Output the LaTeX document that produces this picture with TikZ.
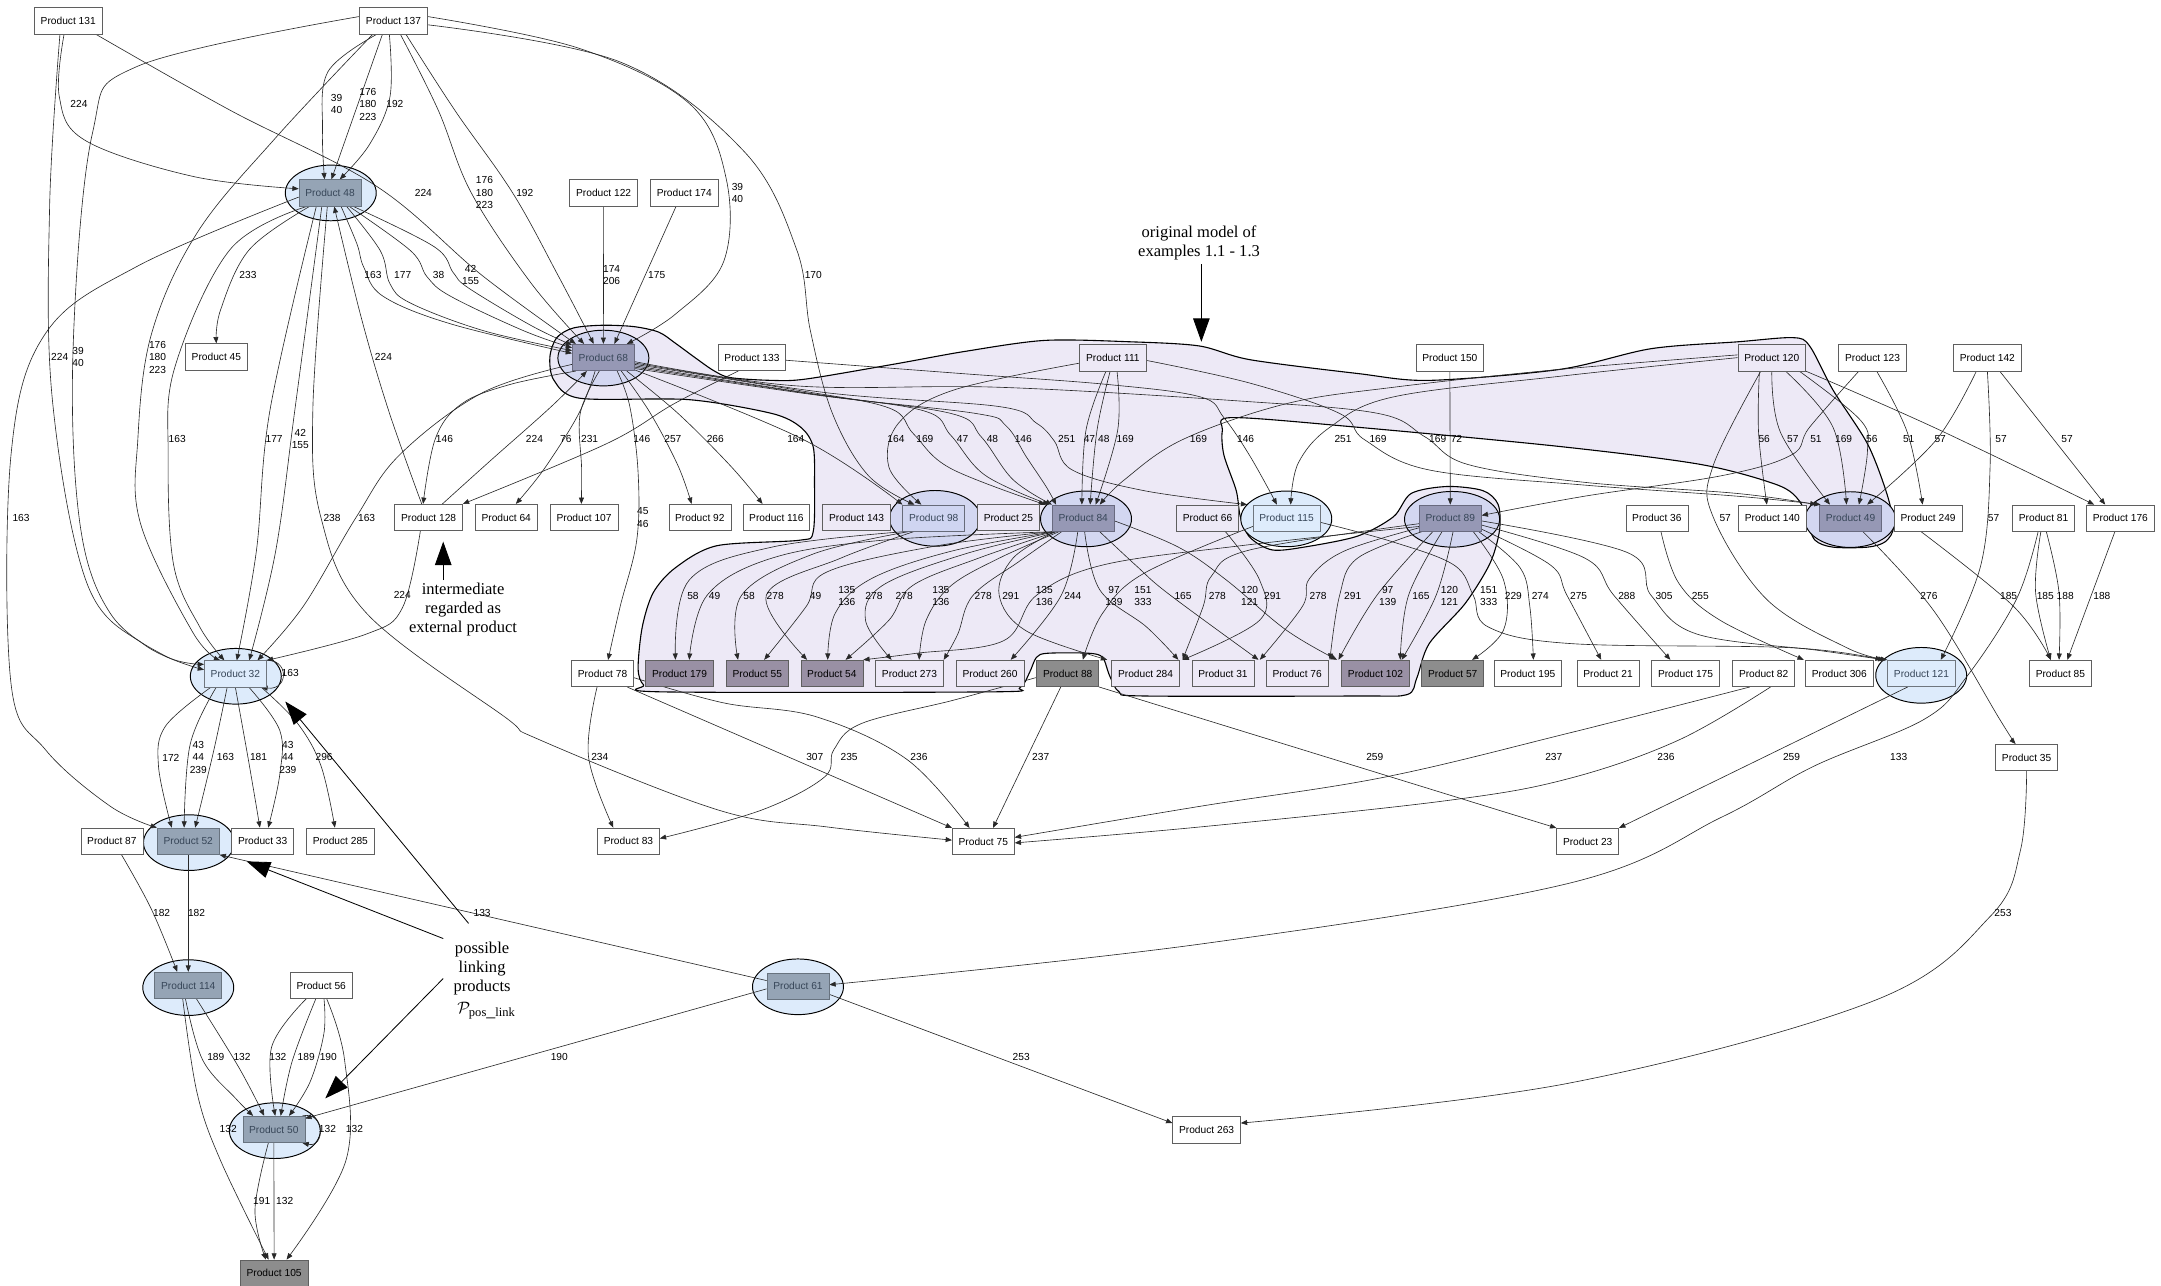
\documentclass[tikz,border=0pt]{standalone}
\usepackage{fontspec}
\setmainfont{Liberation Serif}
\setsansfont{Liberation Sans}
\usetikzlibrary{arrows.meta,shapes.geometric}
\definecolor{hullc}{RGB}{237,233,246}
\definecolor{ellblue}{RGB}{221,235,251}
\definecolor{ellpurp}{RGB}{211,215,241}
\definecolor{rectgb}{RGB}{149,164,181}
\definecolor{rectpp}{RGB}{150,152,181}
\definecolor{rectlt}{RGB}{222,236,252}
\definecolor{rectnn}{RGB}{207,213,241}
\definecolor{darkpp}{RGB}{153,144,164}
\definecolor{grayb}{RGB}{141,141,141}
\definecolor{boxln}{RGB}{95,95,95}
\definecolor{edgec}{RGB}{40,40,40}
\definecolor{inktxt}{RGB}{55,70,88}
\pgfdeclarelayer{back}\pgfdeclarelayer{ell}\pgfdeclarelayer{wires}
\pgfsetlayers{back,ell,wires,main}
\tikzset{
 pbox/.style={draw=boxln, line width=0.5pt, fill=white, font=\sffamily\fontsize{7.4}{8.8}\selectfont, inner xsep=4.6pt, inner ysep=0pt, minimum height=19.2pt, text=black},
 plav/.style={pbox, fill=hullc},
 pdark/.style={pbox, fill=darkpp},
 pgray/.style={pbox, fill=grayb},
 pgb/.style={pbox, fill=rectgb, draw=rectgb!70!black, text=inktxt},
 ppp/.style={pbox, fill=rectpp, draw=rectpp!70!black, text=inktxt},
 plt/.style={pbox, fill=rectlt, draw=rectlt!50!black, text=inktxt},
 pnn/.style={pbox, fill=rectnn, draw=rectnn!50!black, text=inktxt},
 ringb/.style={ellipse, draw=black, line width=0.7pt, fill=ellblue, minimum width=66pt, minimum height=40.4pt, inner sep=0pt},
 ringp/.style={ringb, fill=ellpurp},
 wire/.style={draw=edgec, line width=0.45pt, -{Triangle[length=4.6pt,width=3.6pt]}},
 elab/.style={font=\sffamily\fontsize{7.4}{8.85}\selectfont, align=center, inner sep=0pt},
 notetext/.style={font=\fontsize{12}{13.8}\selectfont, align=center, inner sep=0pt},
 bigarrow/.style={draw=black, line width=0.6pt, -{Triangle[length=17pt,width=12pt]}},
}
\newcommand\wirepath[1]{\draw[wire] plot[smooth,tension=0.6] coordinates {#1};}
\newcommand\elabel[4]{\node[elab] (#1) at (#2,#3) {#4};}
\begin{document}
\begin{tikzpicture}[x=1pt,y=-1pt]
\useasboundingbox (0,0) rectangle (1568,933);
\begin{pgfonlayer}{back}
\fill[white] (0,0) rectangle (1568,933);
% the shaded model region
\filldraw[fill=hullc, draw=black, line width=0.8pt] plot[smooth cycle, tension=0.5] coordinates {
(399,259) (404,245) (416,238) (437,236) (460,237) (478,241) (490,249) (505,260) (518,269) (530,274) (560,276) (585,275) (650,264) (700,255) (758,247) (820,248) (870,251) (907,261) (985,271) (1037,276) (1132,268) (1198,253) (1261,248) (1301,245) (1313,251) (1330,283) (1355,322) (1369,358) (1374,382) (1368,393) (1355,397) (1330,397) (1317,392) (1311,378) (1306,364) (1290,352) (1234,337) (1132,324) (985,310) (894,303) (887,312) (888,330) (897,356) (900,375) (907,390) (923,399) (946,397) (985,389) (1011,375) (1024,358) (1050,353) (1076,356) (1087,366) (1088,385) (1081,409) (1063,438) (1037,467) (1028,492) (1021,504) (985,505) (830,505) (812,502) (805,490) (800,477) (790,474) (760,474) (752,477) (747,488) (740,499) (720,502) (480,502) (467,497) (463,485) (466,455) (474,430) (490,412) (520,396) (580,392) (590,386) (591,350) (590,324) (581,310) (560,300) (500,290) (421,289) (402,276)};
\end{pgfonlayer}

\begin{pgfonlayer}{ell}
\node[ringb] (E48) at (240,140) {};
\node[ringp] (E68) at (437.8,259.8) {};
\node[ringb] (E32) at (171.1,490.7) {};
\node[ringb] (E52) at (137.1,611.4) {};
\node[ringb] (E114) at (136.6,716.6) {};
\node[ringb] (E50) at (199.4,820.4) {};
\node[ringb] (E61) at (579,716) {};
\node[ringp] (E98) at (678.4,376.1) {};
\node[ringp] (E84) at (788,376.5) {};
\node[ringb] (E115) at (933.3,376.5) {};
\node[ringp, minimum width=69pt] (E89) at (1053.6,376.8) {};
\node[ringp] (E49) at (1342.5,377) {};
\node[ringb] (E121) at (1394,490) {};
\end{pgfonlayer}

% products
\node[pbox] (P131) at (49.5,15) {Product 131};
\node[pbox] (P137) at (285.5,15) {Product 137};
\node[pgb] (P48) at (239.5,140) {Product 48};
\node[pbox] (P122) at (438,140) {Product 122};
\node[pbox] (P174) at (496.5,140) {Product 174};
\node[pbox] (P45) at (157,259) {Product 45};
\node[ppp] (P68) at (437.8,259.4) {Product 68};
\node[pbox] (P133) at (545.6,259.4) {Product 133};
\node[plav] (P111) at (807.5,259.5) {Product 111};
\node[pbox] (P150) at (1052,259.5) {Product 150};
\node[plav] (P120) at (1285.6,259.5) {Product 120};
\node[pbox] (P123) at (1358.7,259.5) {Product 123};
\node[pbox] (P142) at (1442,259.5) {Product 142};
\node[pbox] (P128) at (311,375.5) {Product 128};
\node[pbox] (P64) at (367.3,375.5) {Product 64};
\node[pbox] (P107) at (423.8,375.5) {Product 107};
\node[pbox] (P92) at (507.8,375.5) {Product 92};
\node[pbox] (P116) at (563.3,375.5) {Product 116};
\node[plav] (P143) at (621.5,375.5) {Product 143};
\node[pnn] (P98) at (677.5,376) {Product 98};
\node[plav] (P25) at (731.7,375.5) {Product 25};
\node[ppp] (P84) at (786,376) {Product 84};
\node[plav] (P66) at (876.2,376) {Product 66};
\node[plt] (P115) at (933.5,376) {Product 115};
\node[ppp] (P89) at (1052.3,376) {Product 89};
\node[pbox] (P36) at (1202.2,376) {Product 36};
\node[pbox] (P140) at (1286,376) {Product 140};
\node[ppp] (P49) at (1342.8,376) {Product 49};
\node[pbox] (P249) at (1399,376) {Product 249};
\node[pbox] (P81) at (1482.8,376) {Product 81};
\node[pbox] (P176) at (1538.5,376) {Product 176};
\node[plt] (P32) at (170.8,489) {Product 32};
\node[pbox] (P78) at (437.2,488.7) {Product 78};
\node[pdark] (P179) at (493.1,488.6) {Product 179};
\node[pdark] (P55) at (549.5,488.6) {Product 55};
\node[pdark] (P54) at (603.6,488.6) {Product 54};
\node[plav] (P273) at (659.9,488.6) {Product 273};
\node[plav] (P260) at (718.4,488.6) {Product 260};
\node[pgray] (P88) at (774.7,488.6) {Product 88};
\node[plav] (P284) at (831.2,488.6) {Product 284};
\node[plav] (P31) at (887.4,488.6) {Product 31};
\node[plav] (P76) at (941.2,488.6) {Product 76};
\node[pdark] (P102) at (998,488.6) {Product 102};
\node[pgray] (P57) at (1054.1,488.6) {Product 57};
\node[pbox] (P195) at (1108.6,488.6) {Product 195};
\node[pbox] (P21) at (1166.8,488.6) {Product 21};
\node[pbox] (P175) at (1223,488.6) {Product 175};
\node[pbox] (P82) at (1279.7,488.6) {Product 82};
\node[pbox] (P306) at (1334.6,488.6) {Product 306};
\node[plt] (P121) at (1394.2,488.6) {Product 121};
\node[pbox] (P85) at (1495,488.6) {Product 85};
\node[pbox] (P35) at (1470.5,549.7) {Product 35};
\node[pbox] (P87) at (81.2,610.4) {Product 87};
\node[pgb] (P52) at (136.6,610.4) {Product 52};
\node[pbox] (P33) at (190.6,610.4) {Product 33};
\node[pbox] (P285) at (247,610.4) {Product 285};
\node[pbox] (P83) at (456,610.4) {Product 83};
\node[pbox] (P75) at (713.5,610.6) {Product 75};
\node[pbox] (P23) at (1152,610.6) {Product 23};
\node[pgb] (P114) at (136.6,715) {Product 114};
\node[pbox] (P56) at (233.1,715) {Product 56};
\node[pgb] (P61) at (579,715.5) {Product 61};
\node[pgb] (P50) at (198.7,819.5) {Product 50};
\node[pbox] (P263) at (875.5,819.9) {Product 263};
\node[pgray] (P105) at (198.9,923.8) {Product 105};

\begin{pgfonlayer}{wires}
% from Product 131
\wirepath{([xshift=-3pt]P131.south) (43,70) (62,102) (140,128) ([yshift=3pt]P48.west)}
\wirepath{([xshift=20pt]P131.south) (167,80) (273,135) (350,200) ([xshift=-20pt]P68.north)}
\wirepath{([xshift=-6pt]P131.south) (36,150) (38,290) (63,423) (105,468) ([yshift=3pt]P32.west)}
% from Product 137
\wirepath{([xshift=-12pt]P137.south) (238,52) (234,95) ([xshift=-4pt]P48.north)}
\draw[wire] ([xshift=-8pt]P137.south) -- ([xshift=1pt]P48.north);
\wirepath{([xshift=-3pt]P137.south) (283,70) (268,105) ([xshift=7pt]P48.north)}
\wirepath{([xshift=5pt]P137.south) (318,80) (342,140) (385,205) ([xshift=-14pt]P68.north)}
\wirepath{([xshift=9pt]P137.south) (330,80) (372,140) (405,200) ([xshift=-7pt]P68.north)}
\wirepath{([yshift=3pt]P137.east) (420,35) (500,75) (527,130) (525,190) (490,228) ([xshift=17pt]P68.north)}
\wirepath{([yshift=-3pt]P137.east) (450,45) (540,110) (578,181) (588,240) (604,300) (630,345) ([xshift=-14pt]P98.north)}
\wirepath{([yshift=3pt]P137.west) (100,48) (67,97) (53,254) (58,380) (80,445) (120,476) ([yshift=7pt]P32.west)}
\wirepath{([xshift=-15pt]P137.south) (200,100) (143,169) (110,242) (100,319) (102,380) (140,459) ([xshift=-11pt]P32.north)}
% from Product 48
\wirepath{([yshift=-3pt]P48.west) (100,193) (33,242) (8,330) (8,496) (33,544) (80,585) (P52.north west)}
\wirepath{([xshift=-15pt]P48.south) (181,181) (160,225) (P45.north)}
\wirepath{([xshift=8pt]P48.south) (259,177) (264,194) (278,215) (327,235) ([yshift=3pt]P68.west)}
\wirepath{([xshift=12pt]P48.south) (276,182) (283,206) (298,220) (351,240) ([yshift=5pt]P68.west)}
\wirepath{([xshift=14pt]P48.south) (298,182) (310,201) (327,215) (380,240) ([yshift=7pt]P68.west)}
\wirepath{([xshift=17pt]P48.south) (315,179) (329,198) (340,209) (385,236) ([yshift=9pt]P68.west)}
\wirepath{([xshift=-17pt]P48.south) (167,181) (127,266) (122,330) (126,410) (145,455) ([xshift=-8pt]P32.north)}
\wirepath{([xshift=-10pt]P48.south) (196,297) (186,400) ([xshift=1pt]P32.north)}
\wirepath{([xshift=-6pt]P48.south) (214,297) (200,400) ([xshift=10pt]P32.north)}
\wirepath{([xshift=-2pt]P48.south) (227,297) (233,376) (266,445) (366,520) (392,537) (522,588) (600,600) ([yshift=1pt]P75.west)}
\wirepath{([xshift=-5pt]P128.north) (282,298) (262,230) ([xshift=3pt]P48.south)}
% into and out of Product 68
\draw[wire] (P122.south) -- (P68.north);
\draw[wire] ([xshift=-6pt]P174.south) -- ([xshift=8pt]P68.north);
\wirepath{([xshift=-20pt]P68.south) (370,279) (335,293) (316,318) ([xshift=-4pt]P128.north)}
\wirepath{([yshift=-5pt]P68.west) (350,285) (290,330) (258,376) (220,440) ([xshift=16pt]P32.north)}
\wirepath{([xshift=10pt]P128.north) (355,335) (400,295) ([xshift=-12pt]P68.south)}
\wirepath{([xshift=-6pt]P68.south) (420,300) (395,340) ([xshift=7pt]P64.north)}
\wirepath{([xshift=-3pt]P68.south) (421,300) (422,340) ([xshift=-2pt]P107.north)}
\wirepath{([xshift=10pt]P68.south) (457,295) (463,343) (462,392) (450,440) ([xshift=4pt]P78.north)}
\wirepath{([xshift=13pt]P68.south) (472,300) (492,338) ([xshift=-6pt]P92.north)}
\wirepath{([xshift=17pt]P68.south) (492,300) (530,338) ([xshift=-10pt]P116.north)}
\wirepath{([yshift=-9pt]P68.east) (583,319) (P98.north west)}
\wirepath{([xshift=-10pt]P133.south) (489,293) (440,322) (P128.north east)}
\wirepath{([xshift=-6pt]P128.south) (292,441) (266,460) (P32.north east)}
\wirepath{([yshift=-5pt]P68.east) (578,283) (645,296) (663,315) (690,340) ([xshift=-5pt]P84.north west)}
\wirepath{([yshift=-6pt]P68.east) (585,285) (670,298) (690,316) (715,345) ([xshift=-2pt]P84.north west)}
\wirepath{([yshift=-7pt]P68.east) (590,286) (690,300) (712,317) (735,348) (P84.north west)}
\wirepath{([yshift=-8pt]P68.east) (595,287) (708,300) (730,309) (745,332) (759,353) ([xshift=3pt]P84.north west)}
\wirepath{([yshift=-4pt]P68.east) (600,285) (725,295) (752,307) (765,320) (778,341) (830,356) ([xshift=-4pt]P115.north west)}
\wirepath{([yshift=-3pt]P68.east) (578,280) (725,281) (900,291) (1000,300) (1034,317) (1065,337) (1150,350) (1260,358) ([xshift=-2pt]P49.north west)}
% upper band
\wirepath{([yshift=-2pt]P133.east) (697,271) (804,279) (871,288) (888,303) (907,331) ([xshift=-7pt]P115.north)}
\wirepath{([yshift=-4pt]P111.west) (692,283) (652,307) (645,339) ([xshift=-9pt]P98.north)}
\wirepath{([xshift=-5pt]P111.south) (788,312) ([xshift=-1pt]P84.north)}
\wirepath{([xshift=-2pt]P111.south) (796,312) ([xshift=5pt]P84.north)}
\wirepath{([xshift=3pt]P111.south) (811,312) ([xshift=9pt]P84.north)}
\wirepath{([yshift=-2pt]P111.east) (907,278) (972,300) (990,319) (1037,341) (1150,352) (1260,360) ([xshift=1pt]P49.north west)}
\wirepath{([yshift=2pt]P120.west) (1132,268) (1011,281) (933,293) (858,319) (816,348) ([xshift=12pt]P84.north)}
\wirepath{(P120.west) (1132,273) (1011,288) (965,310) (942,336) ([xshift=3pt]P115.north)}
\draw[wire] (P150.south) -- (P89.north);
\wirepath{([xshift=-9pt]P120.south) (1276,314) ([xshift=-4pt]P140.north)}
\wirepath{(P120.south) (1292,314) ([xshift=-15pt]P49.north)}
\wirepath{([xshift=10pt]P120.south) (1330,310) ([xshift=-3pt]P49.north)}
\wirepath{([xshift=20pt]P120.south) (1350,305) (1355,327) ([xshift=6pt]P49.north)}
\wirepath{([xshift=-10pt]P123.south) (1313,310) (1300,330) (1250,345) (1150,360) ([yshift=2pt]P89.east)}
\wirepath{([xshift=3pt]P123.south) (1384,314) ([xshift=-4pt]P249.north)}
\wirepath{([xshift=-8pt]P142.south) (1405,319) ([xshift=12pt]P49.north)}
\draw[wire] ([xshift=9pt]P142.south) -- ([xshift=-11pt]P176.north);
\wirepath{(P120.south east) (1403,310) ([xshift=-19pt]P176.north)}
% lower band
\wirepath{(P98.south west) (560,397) (500,421) ([xshift=-3pt]P179.north)}
\wirepath{(P84.south west) (640,392) (560,405) (513,432) ([xshift=7pt]P179.north)}
\wirepath{([xshift=4pt]P98.south west) (590,402) (538,432) ([xshift=-14pt]P55.north)}
\wirepath{([xshift=8pt]P98.south west) (610,405) (556,432) ([xshift=-18pt]P54.north)}
\wirepath{(P84.south west) (680,396) (600,415) (585,440) ([xshift=5pt]P55.north)}
\wirepath{([xshift=1pt]P84.south west) (690,400) (632,420) (606,445) ([xshift=-3pt]P54.north)}
\wirepath{([xshift=2pt]P84.south west) (700,402) (640,425) (628,450) ([xshift=-13pt]P273.north)}
\wirepath{([xshift=3pt]P84.south west) (710,405) (662,425) (645,450) ([xshift=10pt]P54.north)}
\wirepath{([xshift=5pt]P84.south west) (725,405) (690,425) (672,450) ([xshift=7pt]P273.north)}
\wirepath{([xshift=7pt]P84.south west) (740,407) (706,432) (695,460) (P273.north east)}
\wirepath{([yshift=-6pt]P89.west) (900,396) (800,410) (752,432) (728,465) (665,474) (P54.north east)}
\wirepath{([xshift=2pt]P84.south west) (735,405) (725,432) (745,458) ([xshift=-3pt]P284.north west)}
\wirepath{([xshift=-4pt]P84.south) (770,432) ([xshift=15pt]P260.north)}
\wirepath{([xshift=1pt]P84.south) (798,428) (832,455) ([xshift=-1pt]P284.north east)}
\wirepath{([yshift=-6pt]P115.west) (830,416) (800,445) ([xshift=11pt]P88.north)}
\wirepath{([xshift=12pt]P84.south) (825,411) (848,431) ([xshift=3pt]P31.north east)}
\wirepath{([yshift=-4pt]P89.west) (907,399) (879,418) (873,440) ([xshift=2pt]P284.north east)}
\wirepath{([yshift=-2pt]P84.east) (855,397) (890,421) (933,457) ([xshift=-3pt]P102.north west)}
\wirepath{([xshift=13pt]P66.south) (914,421) (914,450) ([xshift=2pt]P284.north east)}
\wirepath{([yshift=-7pt]P89.west) (975,400) (950,420) (945,440) ([xshift=4pt]P31.north east)}
\wirepath{([xshift=2pt]P89.south west) (985,405) (972,432) ([xshift=1pt]P76.north east)}
\wirepath{([xshift=10pt]P89.south west) (999,432) ([xshift=-2pt]P102.north west)}
\wirepath{([xshift=-6pt]P89.south) (1022,432) ([xshift=18pt]P102.north)}
\wirepath{([xshift=2pt]P89.south) (1042,432) ([xshift=19pt]P102.north)}
\wirepath{([xshift=-6pt]P89.south east) (1091,421) (1091,457) ([xshift=14pt]P57.north)}
\wirepath{([xshift=-2pt]P89.south east) (1103,412) (1110,440) ([xshift=4pt]P195.north)}
\wirepath{([yshift=-8pt]P89.east) (1125,410) (1137,432) ([xshift=-5pt]P21.north)}
\wirepath{([yshift=-5pt]P89.east) (1150,405) (1171,432) ([xshift=-11pt]P175.north)}
\wirepath{([yshift=-2pt]P89.east) (1181,401) (1198,432) (1231,460) (1320,472) ([xshift=-2pt]P121.north west)}
\wirepath{([xshift=3pt]P36.south) (1218,423) (1248,450) ([xshift=-1pt]P306.north west)}
\wirepath{([yshift=-3pt]P115.east) (1010,393) (1055,410) (1069,432) (1080,455) (1140,467) (1300,470) ([xshift=-4pt]P121.north west)}
\wirepath{([xshift=-8pt]P120.south) (1243,338) (1243,375) (1282,435) (1340,470) (P121.north west)}
\wirepath{(P142.south) (1444,338) (1437,411) ([xshift=14pt]P121.north)}
\wirepath{([xshift=9pt]P49.south) (1403,443) (1451,522) ([xshift=-8pt]P35.north)}
\wirepath{([xshift=-5pt]P249.south) (1461,440) ([xshift=-7pt]P85.north)}
\wirepath{([xshift=-2pt]P81.south) (1477,430) ([xshift=-7pt]P85.north)}
\wirepath{([xshift=2pt]P81.south) (1494,430) ([xshift=-1pt]P85.north)}
\draw[wire] ([xshift=-4pt]P176.south) -- ([xshift=5pt]P85.north);
\wirepath{([xshift=-4pt]P81.south) (1463,435) (1427,491) (1396,522) (1316,556) (1249,593) (1138,641) (871,685) ([yshift=1pt]P61.east)}
\wirepath{(P35.south) (1466,617) (1444,665) (1360,726) (1138,786) ([yshift=5pt]P263.east)}
\wirepath{([xshift=-10pt]P82.south) (1138,532) (1004,564) (871,585) ([yshift=3pt]P75.east)}
\wirepath{([xshift=5pt]P82.south) (1218,537) (1138,565) (1049,581) (871,600) ([yshift=-1pt]P75.east)}
\draw[wire] (P88.south east) -- (P23.north west);
\draw[wire] ([xshift=-10pt]P121.south) -- (P23.north east);
\draw[wire] ([xshift=-5pt]P88.south) -- ([xshift=7pt]P75.north);
\wirepath{([yshift=-3pt]P88.west) (692,508) (625,525) (605,544) (598,564) (552,588) ([yshift=2pt]P83.east)}
\wirepath{([xshift=-4pt]P78.south) (427,549) ([xshift=-11pt]P83.north)}
\draw[wire] ([xshift=18pt]P78.south) -- (P75.north west);
\wirepath{([yshift=-3pt]P78.east) (525,510) (592,520) (658,551) ([xshift=-10pt]P75.north)}
\draw[wire] ([yshift=-6pt]P61.east) -- ([yshift=5pt]P263.west);
\draw[wire] ([yshift=4pt]P61.west) -- (P52.south east);
\draw[wire] ([yshift=-2pt]P61.west) -- ([yshift=8pt]P50.east);
% lower left chain
\wirepath{([xshift=-18pt]P32.south) (120,527) (115,556) ([xshift=-12pt]P52.north)}
\wirepath{([xshift=-14pt]P32.south) (138,540) ([xshift=-3pt]P52.north)}
\wirepath{([xshift=-6pt]P32.south) (155,545) ([xshift=5pt]P52.north)}
\wirepath{(P32.south) (180,550) ([xshift=-2pt]P33.north)}
\wirepath{([xshift=10pt]P32.south) (203,530) (203,562) ([xshift=4pt]P33.north)}
\wirepath{([xshift=19pt]P32.south) (216,525) (233,556) ([xshift=-4pt]P285.north)}
\draw[wire] ([xshift=-2pt]P32.north east) .. controls (210,477) and (210,501) .. ([xshift=-4pt]P32.south east);
\wirepath{([xshift=7pt]P87.south) (110,660) ([xshift=-8pt]P114.north)}
\draw[wire] (P52.south) -- (P114.north);
\wirepath{([xshift=-2pt]P114.south) (147,769) (171,797) ([xshift=-15pt]P50.north)}
\wirepath{([xshift=6pt]P114.south) (173,774) ([xshift=-7pt]P50.north)}
\wirepath{([xshift=-4pt]P114.south) (143,793) (160,842) ([xshift=-4pt]P105.north)}
\wirepath{([xshift=-11pt]P56.south) (197,760) ([xshift=1pt]P50.north)}
\wirepath{([xshift=-4pt]P56.south) (212,770) ([xshift=5pt]P50.north)}
\wirepath{([xshift=2pt]P56.south) (235,750) (225,785) ([xshift=11pt]P50.north)}
\wirepath{([xshift=4pt]P56.south) (250,769) (251,842) ([xshift=9pt]P105.north)}
\draw[wire] ([xshift=-2pt]P50.north east) .. controls (236,806) and (236,833) .. ([xshift=-2pt]P50.south east);
\wirepath{([xshift=-4pt]P50.south) (185,878) ([xshift=-6pt]P105.north)}
\draw[wire] (P50.south) -- (P105.north);
\end{pgfonlayer}

% quantity labels
\elabel{a1}{57.3}{75.7}{224}
\elabel{a2}{244.2}{75.7}{39\\40}
\elabel{a3}{266.9}{75.7}{176\\180\\223}
\elabel{a4}{286.5}{75.7}{192}
\elabel{a5}{307.2}{139.8}{224}
\elabel{a6}{351.5}{139.8}{176\\180\\223}
\elabel{a7}{380.8}{139.8}{192}
\elabel{a8}{535.1}{139.8}{39\\40}
\elabel{a9}{443.8}{199.6}{174\\206}
\elabel{a10}{476.5}{199.6}{175}
\elabel{a11}{590.1}{199.6}{170}
\elabel{a12}{179.9}{199.6}{233}
\elabel{a13}{270.6}{199.6}{163}
\elabel{a14}{292.2}{199.6}{177}
\elabel{a15}{318.2}{199.6}{38}
\elabel{a16}{341.5}{199.6}{42\\155}
\elabel{a17}{43.3}{259.3}{224}
\elabel{a18}{56.6}{259.3}{39\\40}
\elabel{a19}{114.3}{259.3}{176\\180\\223}
\elabel{a20}{278.2}{259.3}{224}
\elabel{a21}{15.3}{375.7}{163}
\elabel{a22}{128.6}{318.8}{163}
\elabel{a23}{198.9}{318.8}{177}
\elabel{a24}{217.9}{318.8}{42\\155}
\elabel{a25}{240.9}{375.7}{238}
\elabel{a26}{266}{375.7}{163}
\elabel{a27}{322.5}{318.8}{146}
\elabel{a28}{387.8}{318.8}{224}
\elabel{a29}{410.5}{318.8}{76}
\elabel{a30}{427.8}{318.8}{231}
\elabel{a31}{465.7}{318.6}{146}
\elabel{a32}{488.2}{318.6}{257}
\elabel{a33}{519}{318.6}{266}
\elabel{a34}{577.4}{318.6}{164}
\elabel{a35}{466.4}{375.5}{45\\46}
\elabel{a36}{291.9}{432}{224}
\elabel{b1}{650.1}{318.8}{164}
\elabel{b2}{671.1}{318.8}{169}
\elabel{b3}{698.4}{318.8}{47}
\elabel{b4}{720.1}{318.8}{48}
\elabel{b5}{742.5}{318.8}{146}
\elabel{b6}{774}{318.8}{251}
\elabel{b7}{790.5}{318.8}{47}
\elabel{b8}{800.9}{318.8}{48}
\elabel{b9}{816.4}{318.8}{169}
\elabel{b10}{869.6}{318.8}{169}
\elabel{b11}{903.8}{318.8}{146}
\elabel{b12}{974.5}{318.8}{251}
\elabel{b13}{999.9}{318.8}{169}
\elabel{b14}{1043.2}{318.8}{169}
\elabel{b15}{1056.8}{318.8}{72}
\elabel{b16}{1280.1}{318.8}{56}
\elabel{b17}{1300.9}{318.8}{57}
\elabel{b18}{1317.6}{318.8}{51}
\elabel{b19}{1337.7}{318.8}{169}
\elabel{b20}{1358.2}{318.8}{56}
\elabel{b21}{1384.9}{318.8}{51}
\elabel{b22}{1407.8}{318.8}{57}
\elabel{b23}{1451.9}{318.8}{57}
\elabel{b24}{1499.8}{318.8}{57}
\elabel{b25}{1251.8}{375.7}{57}
\elabel{b26}{1446.5}{375.7}{57}
\elabel{c1}{502.8}{432.3}{58}
\elabel{c2}{518.5}{432.3}{49}
\elabel{c3}{543.5}{432.3}{58}
\elabel{c4}{562.5}{432.3}{278}
\elabel{c5}{591.8}{432.3}{49}
\elabel{c6}{614.4}{432.3}{135\\136}
\elabel{c7}{634.1}{432.3}{278}
\elabel{c8}{656.1}{432.3}{278}
\elabel{c9}{682.7}{432.3}{135\\136}
\elabel{c10}{713.4}{432.3}{278}
\elabel{c11}{733.4}{432.3}{291}
\elabel{c12}{757.7}{432.3}{135\\136}
\elabel{c13}{778.4}{432.3}{244}
\elabel{c14}{808.3}{432.3}{97\\139}
\elabel{c15}{829.3}{432.3}{151\\333}
\elabel{c16}{858.4}{432.3}{165}
\elabel{c17}{883.3}{432.3}{278}
\elabel{c18}{906.7}{432.3}{120\\121}
\elabel{c19}{923.4}{432.3}{291}
\elabel{c20}{956.4}{432.3}{278}
\elabel{c21}{981.5}{432.3}{291}
\elabel{c22}{1006.9}{432.3}{97\\139}
\elabel{c23}{1031}{432.3}{165}
\elabel{c24}{1051.7}{432.3}{120\\121}
\elabel{c25}{1080.2}{432.3}{151\\333}
\elabel{c26}{1098.1}{432.3}{229}
\elabel{c27}{1117.6}{432.3}{274}
\elabel{c28}{1145.4}{432.3}{275}
\elabel{c29}{1180.4}{432.3}{288}
\elabel{c30}{1207.4}{432.3}{305}
\elabel{c31}{1233.7}{432.3}{255}
\elabel{c32}{1399.6}{432.3}{276}
\elabel{c33}{1457.4}{432.3}{185}
\elabel{c34}{1484}{432.3}{185}
\elabel{c35}{1498.5}{432.3}{188}
\elabel{c36}{1525.1}{432.3}{188}
\elabel{d1}{435.2}{549.3}{234}
\elabel{d2}{591.2}{549.3}{307}
\elabel{d3}{616.1}{549.3}{235}
\elabel{d4}{666.8}{549.3}{236}
\elabel{d5}{755.1}{549.3}{237}
\elabel{d6}{997.5}{549.3}{259}
\elabel{d7}{1127.4}{549.3}{237}
\elabel{d8}{1208.8}{549.3}{236}
\elabel{d9}{1299.9}{549.3}{259}
\elabel{d10}{1377.7}{549.3}{133}
\elabel{d11}{1453.3}{662.8}{253}
\elabel{e1}{210.6}{488.6}{163}
\elabel{e2}{124}{549.6}{172}
\elabel{e3}{143.9}{549.6}{43\\44\\239}
\elabel{e4}{163.6}{549.6}{163}
\elabel{e5}{187.6}{549.6}{181}
\elabel{e6}{208.9}{549.6}{43\\44\\239}
\elabel{e7}{235.2}{549.6}{296}
\elabel{e8}{117.3}{662.3}{182}
\elabel{e9}{142.6}{662.3}{182}
\elabel{e10}{349.8}{662.3}{133}
\elabel{e11}{156.6}{766.8}{189}
\elabel{e12}{175.6}{766.8}{132}
\elabel{e13}{201.6}{766.8}{132}
\elabel{e14}{222.2}{766.8}{189}
\elabel{e15}{238.2}{766.8}{190}
\elabel{e16}{405.8}{766.8}{190}
\elabel{e17}{741}{767}{253}
\elabel{e18}{165.6}{819.3}{132}
\elabel{e19}{237.6}{819.3}{132}
\elabel{e20}{257.2}{819.3}{132}
\elabel{e21}{189.9}{871.5}{191}
\elabel{e22}{206.6}{871.5}{132}

% annotations
\node[notetext] (N1) at (870,176) {original model of\\examples 1.1 - 1.3};
\coordinate (N1tip) at (871.7,248);
\draw[bigarrow] ([xshift=1.7pt,yshift=-3pt]N1.south) -- (N1tip);
\node[notetext] (N2) at (336,442.5) {intermediate\\regarded as\\external product};
\coordinate (N2tail) at (321.6,421);
\coordinate (N2tip) at (321.6,393);
\draw[bigarrow] (N2tail) -- (N2tip);
\node[notetext] (N3) at (349.8,703) {possible\\linking\\products};
\node[notetext, font=\fontsize{13}{15}\selectfont] (N3b) at (353,733) {$\mathcal{P}_{\mathrm{pos\_link}}$};
\coordinate (N3a) at (321.6,681);
\coordinate (N3c) at (321.6,710);
\coordinate (N3d) at (340,670);
\coordinate (T52) at (179,625);
\coordinate (T50) at (236,797);
\coordinate (T32) at (207,509);
\draw[bigarrow] (N3a) -- (T52);
\draw[bigarrow] (N3c) -- (T50);
\draw[bigarrow] (N3d) -- (T32);
\end{tikzpicture}
\end{document}
